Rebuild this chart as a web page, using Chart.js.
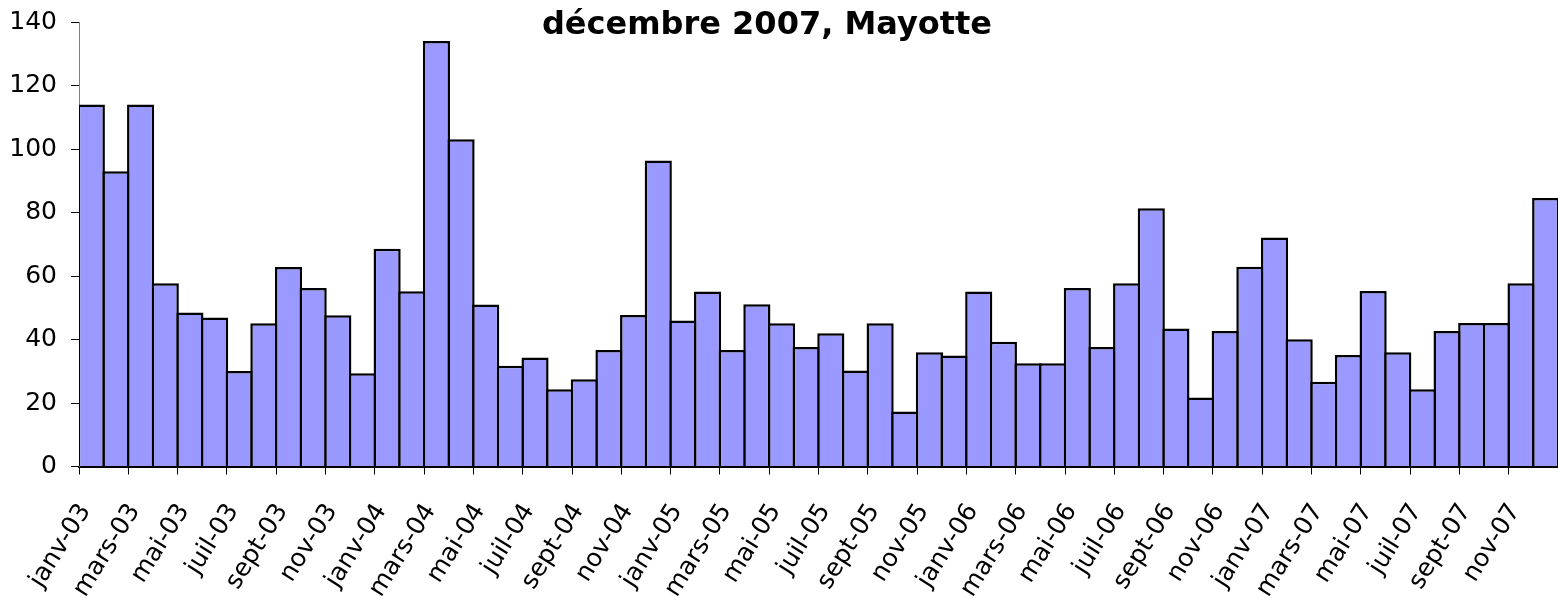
<!DOCTYPE html>
<html>
<head>
<meta charset="utf-8">
<script src="https://cdn.jsdelivr.net/npm/chart.js@4.4.1/dist/chart.umd.min.js"></script>
<style>
html, body { margin: 0; padding: 0; background: #ffffff; }
#wrap { width: 1558px; height: 598px; position: relative; }
</style>
</head>
<body>
<div id="wrap"><canvas id="c" width="1558" height="598"></canvas></div>
<script>
// ---- data ----
const categories = [
  'janv-03','févr-03','mars-03','avr-03','mai-03','juin-03','juil-03','août-03','sept-03','oct-03','nov-03','déc-03',
  'janv-04','févr-04','mars-04','avr-04','mai-04','juin-04','juil-04','août-04','sept-04','oct-04','nov-04','déc-04',
  'janv-05','févr-05','mars-05','avr-05','mai-05','juin-05','juil-05','août-05','sept-05','oct-05','nov-05','déc-05',
  'janv-06','févr-06','mars-06','avr-06','mai-06','juin-06','juil-06','août-06','sept-06','oct-06','nov-06','déc-06',
  'janv-07','févr-07','mars-07','avr-07','mai-07','juin-07','juil-07','août-07','sept-07','oct-07','nov-07','déc-07'
];
const values = [
  114, 93, 114, 57.7, 48.5, 46.9, 30.1, 45.1, 62.8, 56.2, 47.6, 29.4,
  68.6, 55.2, 134, 103.1, 51.0, 31.7, 34.3, 24.3, 27.5, 36.7, 47.7, 96.4,
  46.0, 55.1, 36.7, 51.1, 45.1, 37.6, 42.0, 30.2, 45.1, 17.3, 36.0, 35.0,
  55.1, 39.3, 32.5, 32.5, 56.2, 37.6, 57.7, 81.3, 43.5, 21.7, 42.7, 62.9,
  72.1, 40.1, 26.7, 35.1, 55.3, 36.0, 24.3, 42.7, 45.2, 45.2, 57.7, 84.6
];
const yTicks = [0, 20, 40, 60, 80, 100, 120, 140];
const titleText = 'décembre 2007, Mayotte';

// ---- chart ----
const titlePlugin = {
  id: 'pageTitle',
  afterDraw(chart) {
    const c = chart.ctx;
    c.save();
    c.font = 'bold 32px "DejaVu Sans"';
    c.fillStyle = '#000000';
    c.textAlign = 'center';
    c.textBaseline = 'alphabetic';
    c.fillText(titleText, 767, 34);
    c.restore();
  }
};

const tickFont = { family: 'DejaVu Sans', size: 25 };

new Chart(document.getElementById('c'), {
  type: 'bar',
  data: {
    labels: categories,
    datasets: [{
      data: values,
      backgroundColor: '#9999FF',
      borderColor: '#000000',
      borderWidth: 2.5,
      borderSkipped: 'bottom',
      barPercentage: 1.1014,
      categoryPercentage: 1.0
    }]
  },
  options: {
    responsive: false,
    animation: false,
    devicePixelRatio: 1,
    layout: { padding: { top: 22, left: 0, right: 0, bottom: 0 } },
    plugins: {
      legend: { display: false },
      title: { display: false },
      tooltip: { enabled: false }
    },
    scales: {
      x: {
        offset: true,
        grid: {
          offset: true,
          drawOnChartArea: false,
          tickLength: 8,
          lineWidth: 1,
          color: (ctx) => (ctx.index % 2 === 0 ? '#000000' : 'rgba(0,0,0,0)')
        },
        border: { color: '#000000', width: 2 },
        ticks: {
          autoSkip: false,
          maxRotation: 58,
          minRotation: 58,
          font: tickFont,
          color: '#000000',
          padding: 24,
          labelOffset: -6,
          callback: (v, i) => (i % 2 === 0 ? categories[i] : '')
        },
        afterFit: (s) => { s.height = 131.5; s.paddingLeft = 0; s.paddingRight = 0; }
      },
      y: {
        min: 0,
        max: 140,
        afterBuildTicks: (s) => { s.ticks = yTicks.map(v => ({ value: v })); },
        grid: { drawOnChartArea: false, tickLength: 8, color: '#000000', lineWidth: 1 },
        border: { color: '#808080', width: 1 },
        ticks: { font: tickFont, color: '#000000', padding: 14 },
        afterFit: (s) => { s.width = 79; s.paddingTop = 0; s.paddingBottom = 0; }
      }
    }
  },
  plugins: [titlePlugin]
});
</script>
</body>
</html>
